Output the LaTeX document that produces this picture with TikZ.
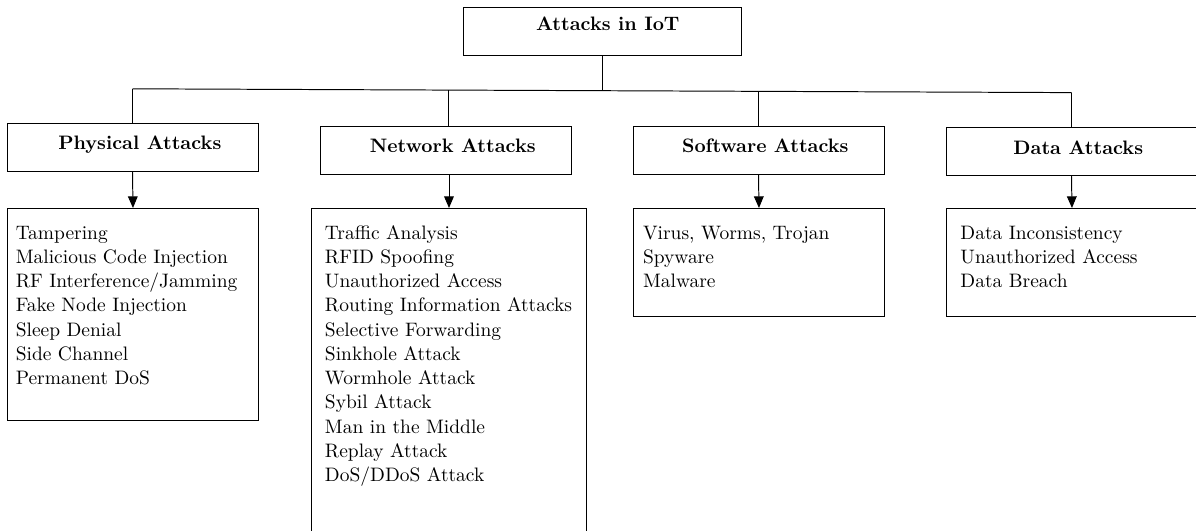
\documentclass[tikz,border=0pt]{standalone}
\usetikzlibrary{arrows.meta}
\begin{document}
\begin{tikzpicture}[x=0.5136pt,y=-0.5136pt,
  line width=0.5pt,
  rootbox/.style={draw, inner sep=0pt, minimum width=278*0.5136pt, minimum height=48*0.5136pt,
    font=\bfseries, text height=7pt, text depth=7.5pt},
  hdrbox/.style={draw, inner sep=0pt, minimum width=251*0.5136pt, minimum height=48*0.5136pt,
    font=\bfseries, text height=8pt, text depth=5.4pt},
  listbox/.style 2 args={draw, inner sep=0pt, anchor=north west,
    minimum width=#1*0.5136pt, minimum height=#2*0.5136pt},
  items/.style={anchor=base west, inner sep=0pt},
  conn/.style={line width=0.5pt},
  arr/.style={line width=0.5pt, -{Triangle[length=6pt,width=5pt]}}]
\useasboundingbox (0,0) rectangle (1196,531);
\clip (0,0) rectangle (1196,531);

% root
\node[rootbox] (root) at (602,31) {\hspace*{6pt}Attacks in IoT};

% headers
\node[hdrbox] (phys) at (132.5,147) {\hspace*{7.5pt}Physical Attacks};
\node[hdrbox] (net)  at (445.5,150) {\hspace*{7.5pt}Network Attacks};
\node[hdrbox] (soft) at (758.5,150) {\hspace*{7pt}Software Attacks};
\node[hdrbox] (data) at (1071.5,151.5) {\hspace*{7pt}Data Attacks};

% bus coordinates
\coordinate (b0) at (132.5,88.8);
\coordinate (b1) at (448.5,90.1);
\coordinate (br) at (602,90.7);
\coordinate (b2) at (758.5,91.3);
\coordinate (b3) at (1071.5,92.6);

\draw[conn] (root.south) -- (br);
\draw[conn] (b0) -- (b3);
\draw[conn] (b0) -- (phys.north);
\draw[conn] (b1) -- (b1 |- net.north);
\draw[conn] (b2) -- (soft.north);
\draw[conn] (b3) -- (data.north);

% list boxes
\node[listbox={251}{212}] (physl) at (7,208) {};
\node[listbox={275}{340}] (netl)  at (311,208) {};
\node[listbox={251}{108}] (softl) at (633,208) {};
\node[listbox={251}{108}] (datal) at (946,208) {};

\renewcommand{\arraystretch}{1.037}
\node[items] (physt) at (15.3,239.3) {\begin{tabular}[t]{@{}l@{}}
Tampering\\ Malicious Code Injection\\ RF Interference/Jamming\\ Fake Node Injection\\ Sleep Denial\\ Side Channel\\ Permanent DoS\end{tabular}};
\node[items] (nett) at (324.5,239.3) {\begin{tabular}[t]{@{}l@{}}
Traffic Analysis\\ RFID Spoofing\\ Unauthorized Access\\ Routing Information Attacks\\ Selective Forwarding\\ Sinkhole Attack\\ Wormhole Attack\\ Sybil Attack\\ Man in the Middle\\ Replay Attack\\ DoS/DDoS Attack\end{tabular}};
\node[items] (softt) at (642.6,239.3) {\begin{tabular}[t]{@{}l@{}}
Virus, Worms, Trojan\\ Spyware\\ Malware\end{tabular}};
\node[items] (datat) at (960,239.3) {\begin{tabular}[t]{@{}l@{}}
Data Inconsistency\\ Unauthorized Access\\ Data Breach\end{tabular}};

% arrows
\draw[arr] (phys.south) -- (physl.north);
\draw[arr] (net.south -| netl.north) -- (netl.north);
\draw[arr] (soft.south) -- (softl.north);
\draw[arr] (data.south) -- (datal.north);
\end{tikzpicture}
\end{document}
